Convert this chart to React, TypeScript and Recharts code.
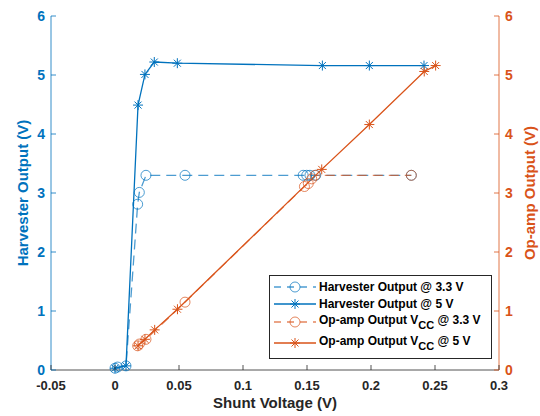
import { ComposedChart, Line, XAxis, YAxis, Legend, Label } from 'recharts'

// shunt voltage (V) and outputs (V)
const harv33X = [0, 0.002, 0.0086, 0.0177, 0.019, 0.0242, 0.0547, 0.147, 0.1498, 0.1523, 0.1568, 0.2315]
const harv33Y = [0.03, 0.05, 0.07, 2.81, 3.01, 3.3, 3.3, 3.3, 3.3, 3.3, 3.3, 3.3]
const harv5X = [0, 0.0086, 0.018, 0.0234, 0.0307, 0.0487, 0.162, 0.1987, 0.2414]
const harv5Y = [0.03, 0.07, 4.49, 5.01, 5.22, 5.2, 5.16, 5.16, 5.16]
const opamp33X = [0.0177, 0.019, 0.0242, 0.0547, 0.148, 0.151, 0.1537, 0.1563, 0.2315]
const opamp33Y = [0.41, 0.44, 0.52, 1.15, 3.11, 3.16, 3.24, 3.3, 3.3]
const opamp5X = [0.018, 0.0234, 0.031, 0.0488, 0.1615, 0.1987, 0.2416, 0.2505]
const opamp5Y = [0.41, 0.52, 0.68, 1.03, 3.4, 4.16, 5.06, 5.16]

const xTicks = [-0.05, 0, 0.05, 0.1, 0.15, 0.2, 0.25, 0.3]
const yTicks = [0, 1, 2, 3, 4, 5, 6]

const BLUE = '#0072BD'
const ORANGE = '#D95319'
const GRAY = '#262626'
const FONT = '"Liberation Sans", Arial, Helvetica, sans-serif'

const toPoints = (xs: number[], ys: number[]) => xs.map((x, i) => ({ x, y: ys[i] }))

const Circle = ({ cx, cy, color, opacity }: any) => (
  <circle cx={cx} cy={cy} r={5} fill="none" stroke={color} strokeOpacity={opacity} strokeWidth={1} />
)

const Star = ({ cx, cy, color }: any) => {
  const r = 5
  const d = r * 0.7
  return (
    <g stroke={color} strokeWidth={1}>
      <line x1={cx - r} y1={cy} x2={cx + r} y2={cy} />
      <line x1={cx} y1={cy - r} x2={cx} y2={cy + r} />
      <line x1={cx - d} y1={cy - d} x2={cx + d} y2={cy + d} />
      <line x1={cx - d} y1={cy + d} x2={cx + d} y2={cy - d} />
    </g>
  )
}

const series = [
  { name: 'harv33', label: 'Harvester Output @ 3.3 V', data: toPoints(harv33X, harv33Y), color: BLUE, dashed: true, axis: 'left' },
  { name: 'harv5', label: 'Harvester Output @ 5 V', data: toPoints(harv5X, harv5Y), color: BLUE, dashed: false, axis: 'left' },
  { name: 'op33', label: 'Op-amp Output V', sub: ' @ 3.3 V', data: toPoints(opamp33X, opamp33Y), color: ORANGE, dashed: true, axis: 'right' },
  { name: 'op5', label: 'Op-amp Output V', sub: ' @ 5 V', data: toPoints(opamp5X, opamp5Y), color: ORANGE, dashed: false, axis: 'right' },
]

function BottomTick({ x, y, payload }: any) {
  return (
    <g>
      <line x1={x} y1={y} x2={x} y2={y - 5} stroke={GRAY} strokeWidth={0.8} />
      <text x={x} y={y + 20} textAnchor="middle" fontSize={13} fontWeight="bold" fill={GRAY} fontFamily={FONT}>
        {String(payload.value)}
      </text>
    </g>
  )
}

function TopTick({ x, y }: any) {
  return <line x1={x} y1={y} x2={x} y2={y + 5} stroke={GRAY} strokeWidth={0.8} />
}

function LeftTick({ x, y, payload }: any) {
  return (
    <g>
      <line x1={x} y1={y} x2={x + 5} y2={y} stroke={BLUE} strokeWidth={0.8} />
      <text x={x - 6} y={y + 5} textAnchor="end" fontSize={14} fontWeight="bold" fill={BLUE} fontFamily={FONT}>
        {payload.value}
      </text>
    </g>
  )
}

function RightTick({ x, y, payload }: any) {
  return (
    <g>
      <line x1={x} y1={y} x2={x - 5} y2={y} stroke={ORANGE} strokeWidth={0.8} />
      <text x={x + 6} y={y + 5} textAnchor="start" fontSize={14} fontWeight="bold" fill={ORANGE} fontFamily={FONT}>
        {payload.value}
      </text>
    </g>
  )
}

function LegendBox() {
  return (
    <div
      style={{
        width: 223,
        height: 84,
        border: '1px solid #262626',
        background: '#fff',
        boxSizing: 'border-box',
        fontFamily: FONT,
        fontWeight: 'bold',
        fontSize: 12,
        color: '#000',
        paddingTop: 2,
      }}
    >
      {series.map((s) => (
        <div key={s.name} style={{ display: 'flex', alignItems: 'center', height: s.sub ? 20 : 17, marginBottom: s.sub ? 1 : 0 }}>
          <svg width={46} height={12} style={{ flex: 'none', marginLeft: 2 }}>
            <line
              x1={2}
              y1={6}
              x2={44}
              y2={6}
              stroke={s.color}
              strokeOpacity={s.dashed ? 0.7 : 1}
              strokeWidth={1.5}
              strokeDasharray={s.dashed ? '7 6' : undefined}
            />
            {s.dashed ? <Circle cx={23} cy={6} color={s.color} opacity={0.7} /> : <Star cx={23} cy={6} color={s.color} />}
          </svg>
          <span style={{ marginLeft: 1, whiteSpace: 'nowrap' }}>
            {s.label}
            {s.sub ? (
              <>
                <sub style={{ fontSize: 11, verticalAlign: -5 }}>CC</sub>
                {s.sub}
              </>
            ) : null}
          </span>
        </div>
      ))}
    </div>
  )
}

export default function App() {
  return (
    <div style={{ position: 'absolute', left: 0, top: 0, width: 540, height: 416, background: '#fff' }}>
      <ComposedChart width={540} height={416} margin={{ top: 16, right: 0, bottom: 0, left: 0 }}>
        <XAxis
          xAxisId="bottom"
          dataKey="x"
          type="number"
          domain={[-0.05, 0.3]}
          ticks={xTicks}
          height={46}
          tickSize={0}
          tickMargin={0}
          tickLine={false}
          tick={<BottomTick />}
          axisLine={{ stroke: GRAY, strokeWidth: 0.8 }}
          allowDataOverflow
        >
          <Label
            value="Shunt Voltage (V)"
            position="insideBottom"
            offset={8}
            fill={GRAY}
            fontSize={15}
            fontWeight="bold"
            fontFamily={FONT}
          />
        </XAxis>
        <XAxis
          xAxisId="top"
          orientation="top"
          type="number"
          domain={[-0.05, 0.3]}
          ticks={xTicks}
          height={0}
          tickSize={0}
          tickMargin={0}
          tickLine={false}
          tick={<TopTick />}
          axisLine={{ stroke: GRAY, strokeWidth: 0.8 }}
          allowDataOverflow
        />
        <YAxis
          yAxisId="left"
          type="number"
          domain={[0, 6]}
          ticks={yTicks}
          width={51}
          tickSize={0}
          tickMargin={0}
          tickLine={false}
          tick={<LeftTick />}
          axisLine={{ stroke: BLUE, strokeWidth: 0.8 }}
        >
          <Label
            content={({ viewBox }: any) => {
              const cx = viewBox.x + 22
              const cy = viewBox.y + viewBox.height / 2
              return (
                <text
                  x={cx}
                  y={cy}
                  transform={`rotate(-90 ${cx} ${cy})`}
                  textAnchor="middle"
                  dominantBaseline="central"
                  fontSize={15}
                  fontWeight="bold"
                  fill={BLUE}
                  fontFamily={FONT}
                >
                  Harvester Output (V)
                </text>
              )
            }}
          />
        </YAxis>
        <YAxis
          yAxisId="right"
          orientation="right"
          type="number"
          domain={[0, 6]}
          ticks={yTicks}
          width={41}
          tickSize={0}
          tickMargin={0}
          tickLine={false}
          tick={<RightTick />}
          axisLine={{ stroke: ORANGE, strokeWidth: 0.8 }}
        >
          <Label
            content={({ viewBox }: any) => {
              const cx = viewBox.x + 30
              const cy = viewBox.y + viewBox.height / 2
              return (
                <text
                  x={cx}
                  y={cy}
                  transform={`rotate(-90 ${cx} ${cy})`}
                  textAnchor="middle"
                  dominantBaseline="central"
                  fontSize={15}
                  fontWeight="bold"
                  fill={ORANGE}
                  fontFamily={FONT}
                >
                  Op-amp Output (V)
                </text>
              )
            }}
          />
        </YAxis>
        {series.map((s) => (
          <Line
            key={s.name}
            name={s.name}
            data={s.data}
            dataKey="y"
            xAxisId="bottom"
            yAxisId={s.axis}
            type="linear"
            stroke={s.color}
            strokeOpacity={s.dashed ? 0.7 : 1}
            strokeWidth={1.3}
            strokeDasharray={s.dashed ? '10 6' : undefined}
            dot={(p: any) =>
              s.dashed ? (
                <Circle key={`${s.name}-${p.index}`} cx={p.cx} cy={p.cy} color={s.color} opacity={0.7} />
              ) : (
                <Star key={`${s.name}-${p.index}`} cx={p.cx} cy={p.cy} color={s.color} />
              )
            }
            activeDot={false}
            isAnimationActive={false}
          />
        ))}
        <Legend
          layout="vertical"
          align="center"
          verticalAlign="middle"
          content={<LegendBox />}
          wrapperStyle={{ left: 269, top: 275, width: 223, height: 84 }}
        />
      </ComposedChart>
    </div>
  )
}
